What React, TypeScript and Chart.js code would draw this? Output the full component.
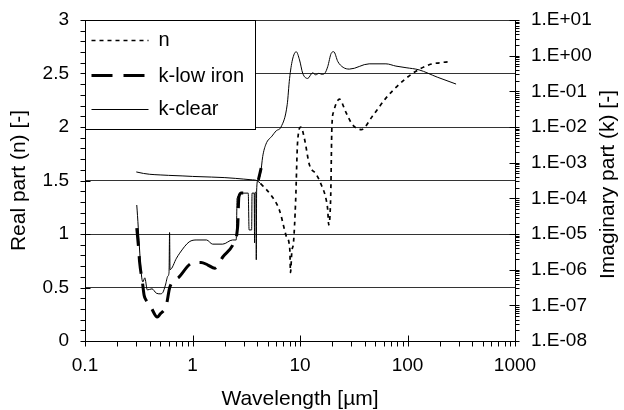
import React, { useEffect, useRef } from 'react';
import { Chart, registerables } from 'chart.js';

Chart.register(...registerables);

const FONT = "'Liberation Sans', Arial, Helvetica, sans-serif";

// ---- data (wavelength in µm) ----
const nWavelength = [0.3, 0.35, 0.4, 0.5, 0.6, 0.8, 1.0, 1.5, 2.0, 2.5, 3.0, 3.5, 4.0, 4.3, 5.4, 6.45, 7.45, 7.9, 8.05, 8.16, 8.4, 8.7, 9.1, 9.5, 10.2, 11.0, 12.25, 14.1, 15.7, 17.5, 18.1, 18.5, 19.3, 19.8, 20.6, 23.3, 26.5, 30.7, 37.2, 47, 63, 80, 110, 159, 197, 244];
const nValues = [1.58, 1.566, 1.558, 1.552, 1.548, 1.543, 1.538, 1.532, 1.527, 1.52, 1.513, 1.507, 1.498, 1.47, 1.36, 1.22, 0.98, 0.92, 0.84, 0.64, 0.84, 0.92, 1.3, 1.86, 2.0, 1.89, 1.645, 1.56, 1.465, 1.323, 1.228, 1.086, 1.35, 2.0, 2.146, 2.26, 2.146, 2.023, 1.976, 2.099, 2.27, 2.38, 2.497, 2.582, 2.6, 2.61];

const kClearWavelength = [0.303, 0.345, 0.36, 0.38, 0.42, 0.46, 0.5, 0.53, 0.56, 0.59, 0.605, 0.612, 0.618, 0.71, 0.76, 0.93, 1.1, 1.35, 1.54, 1.91, 2.36, 2.55, 2.6, 2.75, 2.85, 3.3, 3.36, 3.55, 3.58, 3.75, 3.78, 3.81, 3.9, 3.92, 3.95, 4.05, 4.3, 4.5, 4.82, 5.5, 6.0, 6.66, 7.6, 8.0, 8.5, 9.22, 9.9, 10.6, 11.8, 13.1, 14.0, 15.0, 16.0, 17.0, 18.1, 19.5, 20.6, 22.5, 25.2, 28.8, 44, 63, 78, 97, 128, 189, 283];
const kClearValues = [6.5e-5, 4.5e-7, 5.9e-7, 2.7e-7, 2.9e-7, 2.2e-7, 2.1e-7, 2.3e-7, 3.7e-7, 6.6e-7, 8.5e-7, 1.1e-5, 1.0e-6, 2.1e-6, 2.9e-6, 6.0e-6, 6.8e-6, 6.8e-6, 5.2e-6, 5.2e-6, 6.8e-6, 6.8e-6, 1.0e-4, 1.2e-4, 1.4e-4, 1.4e-4, 1.3e-5, 1.3e-5, 1.4e-4, 1.4e-4, 5.6e-6, 1.4e-4, 1.5e-4, 1.9e-6, 1.6e-4, 3.2e-4, 5.0e-4, 1.5e-3, 3.3e-3, 5.6e-3, 7.8e-3, 1.0e-2, 4.2e-2, 0.23, 0.76, 1.29, 0.76, 0.32, 0.23, 0.33, 0.29, 0.32, 0.3, 0.32, 0.49, 1.16, 1.29, 0.68, 0.47, 0.42, 0.59, 0.59, 0.51, 0.46, 0.4, 0.25, 0.16];

const kLowIronWavelength = [0.303, 0.315, 0.322, 0.342, 0.355, 0.37, 0.41, 0.47, 0.5, 0.57, 0.615, 0.75, 1.0, 1.2, 1.39, 1.61, 1.92, 2.37, 2.63, 2.7, 2.85, 3.0, 3.5, 4.1, 4.35];
const kLowIronValues = [1.47e-5, 4.1e-6, 1.65e-6, 4.5e-7, 1.9e-7, 1.4e-7, 8.9e-8, 4.7e-8, 5.7e-8, 1.0e-7, 3.2e-7, 6.2e-7, 1.55e-6, 1.6e-6, 1.35e-6, 1.1e-6, 2.3e-6, 4.9e-6, 1.6e-5, 1.1e-4, 1.4e-4, 1.4e-4, null, 3.3e-4, 7.0e-4];

const seriesLabels = ['n', 'k-low iron', 'k-clear'];
const xTickLabels = ['0.1', '1', '10', '100', '1000'];
const leftTickLabels = ['0', '0.5', '1', '1.5', '2', '2.5', '3'];
const rightTickLabels = ['1.E-08', '1.E-07', '1.E-06', '1.E-05', '1.E-04', '1.E-03', '1.E-02', '1.E-01', '1.E+00', '1.E+01'];
const xTitle = 'Wavelength [µm]';
const leftTitle = 'Real part (n) [-]';
const rightTitle = 'Imaginary part (k) [-]';

const toPoints = (xs: number[], ys: (number | null)[]) => xs.map((x, i) => ({ x, y: ys[i] }));

const decadeIndex = (v: number, base: number) => {
  const l = Math.log10(v);
  const r = Math.round(l);
  return Math.abs(l - r) < 1e-6 ? r - base : -1;
};

const N_DASH = [4, 4];
const K_LOW_DASH = [18, 10];

const decorPlugin = {
  id: 'decor',
  afterDraw(chart: any) {
    const { ctx, chartArea } = chart;
    const { left, right, top, bottom } = chartArea;
    const xs = chart.scales.x;
    const yl = chart.scales.y;
    const yr = chart.scales.y1;
    const L = Math.round(left) + 0.5;
    const R = Math.round(right) + 0.5;
    const B = Math.round(bottom) + 0.5;
    ctx.save();
    ctx.strokeStyle = '#000';
    ctx.lineWidth = 1;
    ctx.setLineDash([]);
    ctx.beginPath();
    ctx.moveTo(L, Math.round(top) + 0.5);
    ctx.lineTo(L, B);
    ctx.lineTo(R, B);
    ctx.moveTo(R, Math.round(top) + 0.5);
    ctx.lineTo(R, B);
    for (let i = 0; i <= 30; i++) {
      const py = Math.round(yl.getPixelForValue(i / 10)) + 0.5;
      ctx.moveTo(L - 5, py);
      ctx.lineTo(i % 5 === 0 ? L + 5 : L, py);
    }
    for (let d = -8; d <= 1; d++) {
      for (let m = 1; m <= 9; m++) {
        const v = m * Math.pow(10, d);
        if (v > 10.0001) break;
        const py = Math.round(yr.getPixelForValue(v)) + 0.5;
        if (m === 1) { ctx.moveTo(R - 6, py); ctx.lineTo(R + 4, py); }
        else { ctx.moveTo(R, py); ctx.lineTo(R + 4, py); }
      }
    }
    for (let d = -1; d <= 3; d++) {
      for (let m = 1; m <= 9; m++) {
        const v = m * Math.pow(10, d);
        if (v > 1000.01) break;
        const px = Math.round(xs.getPixelForValue(v)) + 0.5;
        if (m === 1) { ctx.moveTo(px, B - 6); ctx.lineTo(px, B + 5); }
        else { ctx.moveTo(px, B); ctx.lineTo(px, B + 5); }
      }
    }
    ctx.stroke();

    const lx = L, ly = Math.round(top) + 0.5;
    ctx.fillStyle = '#fff';
    ctx.fillRect(lx, ly, 170, 109);
    ctx.strokeRect(lx, ly, 170, 109);
    ctx.fillStyle = '#000';
    ctx.font = `20px ${FONT}`;
    ctx.textBaseline = 'alphabetic';
    ctx.textAlign = 'left';
    const items = [
      { dash: N_DASH, width: 1.7, lineY: 20, textY: 25 },
      { dash: [21, 11], width: 3, lineY: 55, textY: 61 },
      { dash: [], width: 1, lineY: 89, textY: 94 },
    ];
    items.forEach((it, i) => {
      ctx.beginPath();
      ctx.setLineDash(it.dash);
      ctx.lineWidth = it.width;
      ctx.moveTo(lx + 6, ly + it.lineY);
      ctx.lineTo(lx + 63, ly + it.lineY);
      ctx.stroke();
      ctx.fillText(seriesLabels[i], lx + 73, ly + it.textY);
    });
    ctx.setLineDash([]);

    ctx.save();
    ctx.translate(608, (top + bottom) / 2 + 4);
    ctx.rotate(-Math.PI / 2);
    ctx.textAlign = 'center';
    ctx.textBaseline = 'middle';
    ctx.font = `21px ${FONT}`;
    ctx.fillText(rightTitle, 0, 0);
    ctx.restore();
    ctx.restore();
  },
};

export default function App() {
  const ref = useRef<HTMLCanvasElement | null>(null);
  useEffect(() => {
    document.body.style.margin = '0';
    if (!ref.current) return;
    Chart.defaults.font.family = FONT;
    Chart.defaults.color = '#000';
    const chart = new Chart(ref.current, {
      type: 'line',
      data: {
        datasets: [
          {
            label: seriesLabels[0],
            data: toPoints(nWavelength, nValues),
            yAxisID: 'y',
            borderColor: '#000',
            borderWidth: 1.7,
            borderDash: N_DASH,
            pointRadius: 0,
            cubicInterpolationMode: 'monotone',
            segment: {
              borderDash: (c: any) => (c.p1.parsed.x <= 4.3 ? [] : undefined),
              borderWidth: (c: any) => (c.p1.parsed.x <= 4.3 ? 1 : undefined),
            },
          },
          {
            label: seriesLabels[1],
            data: toPoints(kLowIronWavelength, kLowIronValues),
            yAxisID: 'y1',
            borderColor: '#000',
            borderWidth: 3,
            borderDash: K_LOW_DASH,
            pointRadius: 0,
            cubicInterpolationMode: 'monotone',
          },
          {
            label: seriesLabels[2],
            data: toPoints(kClearWavelength, kClearValues),
            yAxisID: 'y1',
            borderColor: '#000',
            borderWidth: 1,
            pointRadius: 0,
            cubicInterpolationMode: 'monotone',
          },
        ],
      } as any,
      options: {
        animation: false,
        responsive: false,
        parsing: false as any,
        normalized: true,
        layout: { padding: { top: 20, left: 0, right: 0, bottom: 0 } },
        plugins: { legend: { display: false }, tooltip: { enabled: false } },
        scales: {
          x: {
            type: 'logarithmic',
            min: 0.1,
            max: 1000,
            grid: { display: false, drawTicks: false },
            border: { display: false },
            ticks: {
              autoSkip: false,
              maxRotation: 0,
              minRotation: 0,
              padding: 13,
              font: { size: 19 },
              callback: (v: any) => {
                const i = decadeIndex(Number(v), -1);
                return i >= 0 && i < xTickLabels.length ? xTickLabels[i] : '';
              },
            },
            title: { display: true, text: xTitle, font: { size: 21 }, padding: { top: 0, bottom: -2 } },
            afterFit: (s: any) => { s.height = 69; },
          },
          y: {
            type: 'linear',
            position: 'left',
            min: 0,
            max: 3,
            ticks: {
              stepSize: 0.5,
              padding: 16,
              font: { size: 19 },
              callback: (_v: any, i: number) => leftTickLabels[i],
            },
            grid: { color: '#333', lineWidth: 1, drawTicks: false },
            border: { display: false },
            title: { display: true, text: leftTitle, font: { size: 21 }, padding: { top: 7, bottom: 0 } },
            afterFit: (s: any) => { s.width = 85; s.paddingTop = 0; s.paddingBottom = 0; },
          },
          y1: {
            type: 'logarithmic',
            position: 'right',
            min: 1e-8,
            max: 10,
            grid: { display: false, drawTicks: false },
            border: { display: false },
            ticks: {
              autoSkip: false,
              padding: 16,
              font: { size: 19 },
              callback: (v: any) => {
                const i = decadeIndex(Number(v), -8);
                return i >= 0 && i < rightTickLabels.length ? rightTickLabels[i] : '';
              },
            },
            afterFit: (s: any) => { s.width = 109; s.paddingTop = 0; s.paddingBottom = 0; },
          },
        },
      } as any,
      plugins: [decorPlugin],
    });
    return () => chart.destroy();
  }, []);
  return (
    <div style={{ width: 624, height: 410 }}>
      <canvas ref={ref} width={624} height={410} />
    </div>
  );
}
